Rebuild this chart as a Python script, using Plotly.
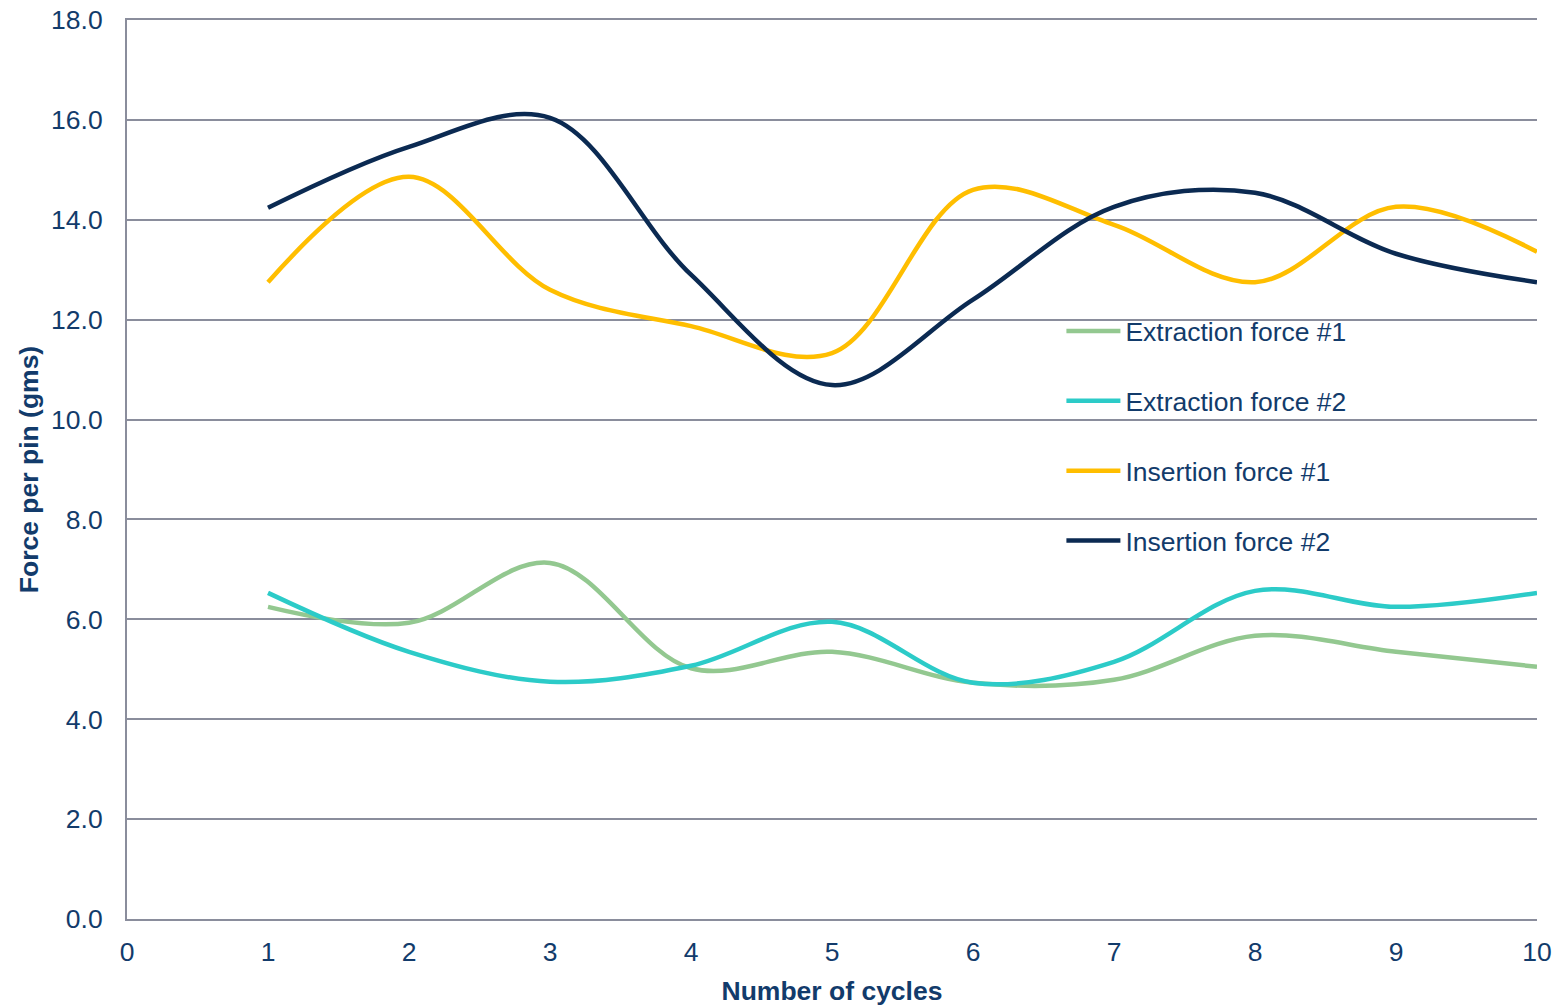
import plotly.graph_objects as go

cycles = [1, 2, 3, 4, 5, 6, 7, 8, 9, 10]
extraction_1 = [6.25, 5.93, 7.13, 5.02, 5.35, 4.73, 4.79, 5.67, 5.35, 5.05]
extraction_2 = [6.53, 5.35, 4.75, 5.07, 5.95, 4.73, 5.15, 6.57, 6.25, 6.53]
insertion_1 = [12.75, 14.86, 12.6, 11.87, 11.33, 14.6, 13.9, 12.75, 14.26, 13.36]
insertion_2 = [14.24, 15.46, 16.04, 12.9, 10.69, 12.4, 14.26, 14.54, 13.32, 12.75]

series_names = ["Extraction force #1", "Extraction force #2", "Insertion force #1", "Insertion force #2"]
series_values = [extraction_1, extraction_2, insertion_1, insertion_2]
series_colors = ["#93C890", "#2CCBC8", "#FFBE00", "#0B2A52"]

TEXT = "#123B6B"
GRID = "#8A8D9C"
FONT = "Liberation Sans, Arial, sans-serif"
FS = 26.5

fig = go.Figure()
for i, (name, vals, col) in enumerate(zip(series_names, series_values, series_colors)):
    fig.add_trace(go.Scatter(
        x=cycles, y=vals, name=name, mode="lines",
        line=dict(color=col, width=4.5, shape="spline", smoothing=1.0),
        legendgroup=f"g{i}",
    ))

fig.update_layout(
    width=1564, height=1006,
    margin=dict(l=127, r=27, t=20, b=87, autoexpand=False),
    paper_bgcolor="white", plot_bgcolor="white",
    font=dict(family=FONT, color=TEXT, size=FS),
    showlegend=True,
    legend=dict(
        x=0.6627, y=0.6805, xanchor="left", yanchor="top",
        bgcolor="rgba(0,0,0,0)", font=dict(size=FS, color=TEXT),
        tracegroupgap=32.4, itemwidth=54,
    ),
    xaxis=dict(
        range=[0, 10], dtick=1, tick0=0, showgrid=False, zeroline=False,
        showline=True, linecolor=GRID, linewidth=2, mirror=True, automargin=False,
        ticks="", tickfont=dict(size=FS, color=TEXT), ticklabelstandoff=8,
        ticklabeloverflow="allow",
        title=dict(text="<b>Number of cycles</b>", font=dict(size=FS, color=TEXT), standoff=16),
    ),
    yaxis=dict(
        range=[0, 18], dtick=2, tick0=0, tickformat=".1f",
        showgrid=True, gridcolor=GRID, gridwidth=1.5, zeroline=False,
        showline=True, linecolor=GRID, linewidth=2, automargin=False,
        ticks="", tickfont=dict(size=FS, color=TEXT), ticklabelstandoff=17,
        ticklabeloverflow="allow",
        title=dict(text="<b>Force per pin (gms)</b>", font=dict(size=FS, color=TEXT), standoff=5),
    ),
)

fig.write_html(
    "out.html",
    config={"displayModeBar": False},
    post_script="document.body.style.margin='0';document.body.style.overflow='hidden';",
)
